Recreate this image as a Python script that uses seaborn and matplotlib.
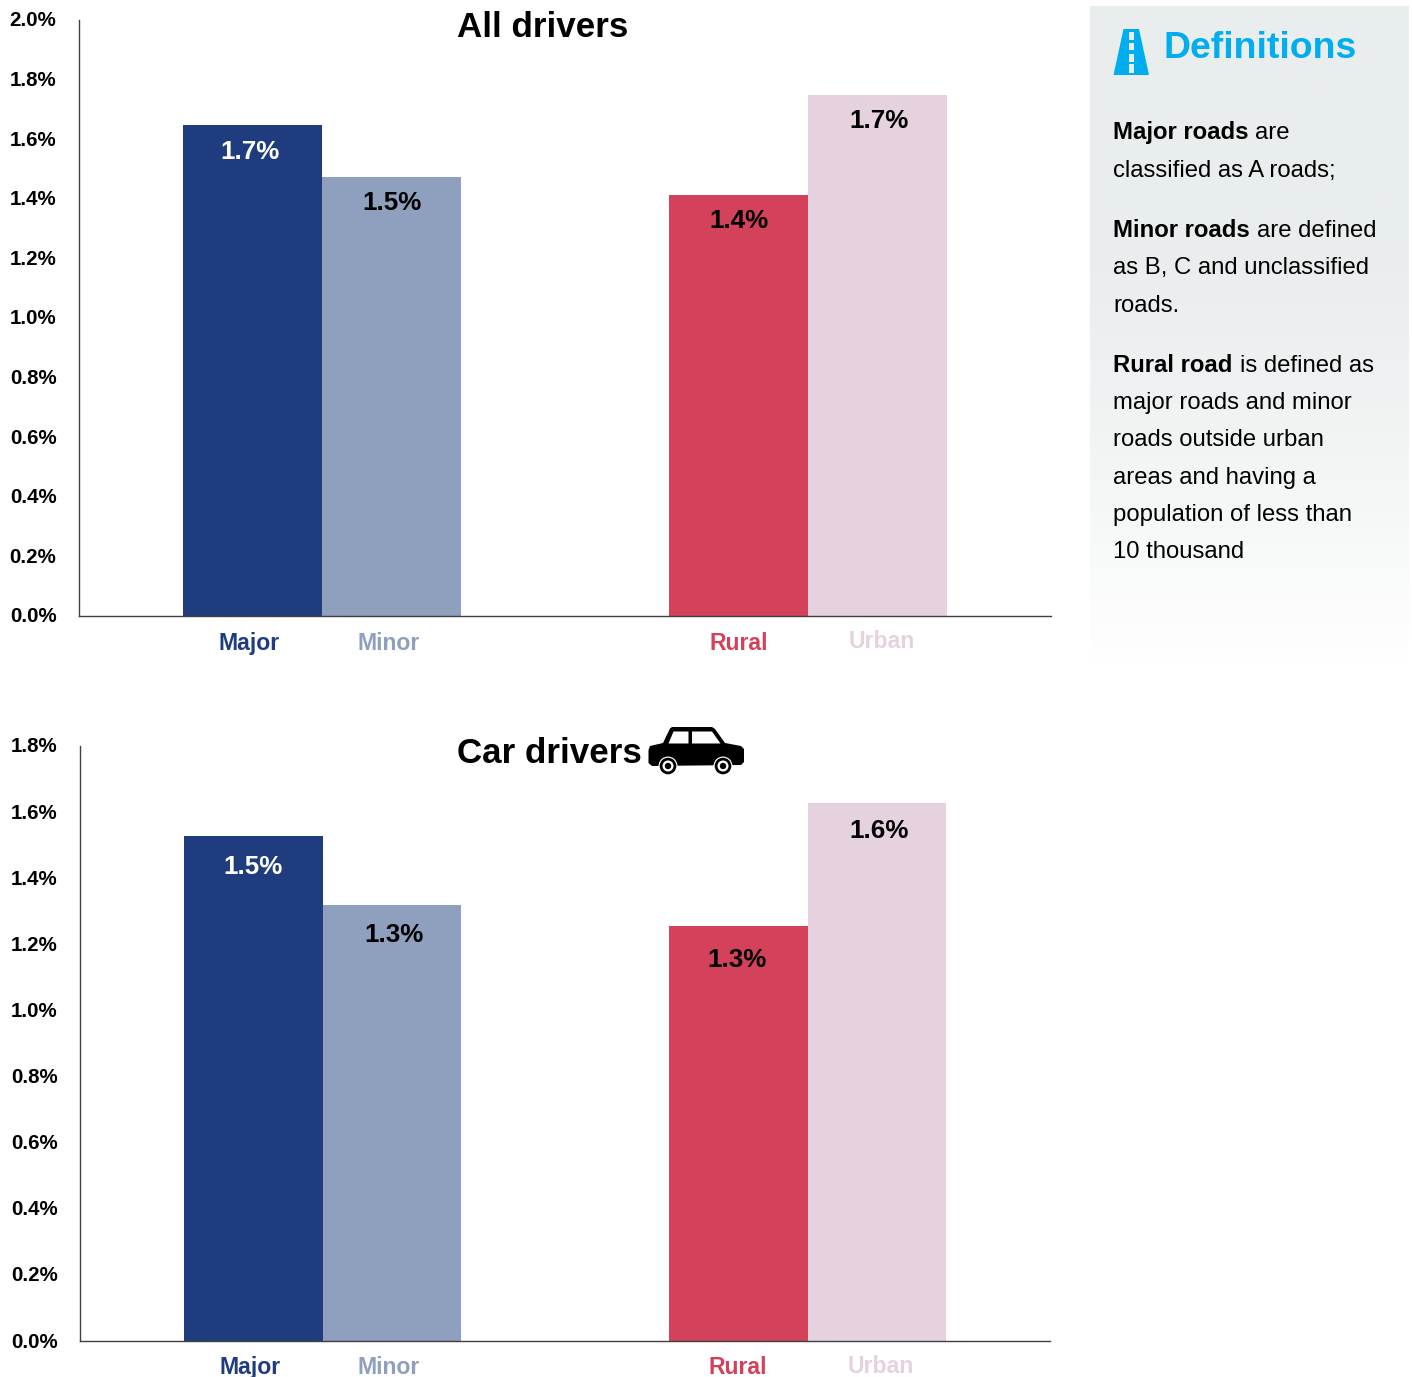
import numpy as np
import pandas as pd
import matplotlib
matplotlib.use("Agg")
import matplotlib.pyplot as plt
from matplotlib.patches import Polygon, Circle, Rectangle
from matplotlib.transforms import Affine2D
import seaborn as sns

# ---- data ----
categories = ["Major", "Minor", "Rural", "Urban"]
groups = ["Road type", "Road type", "Area type", "Area type"]
slots = ["first", "second", "first", "second"]
all_drivers = [1.648, 1.473, 1.413, 1.748]
car_drivers = [1.528, 1.319, 1.255, 1.627]
all_labels = ["1.7%", "1.5%", "1.4%", "1.7%"]
car_labels = ["1.5%", "1.3%", "1.3%", "1.6%"]
all_ticks = [0.0, 0.2, 0.4, 0.6, 0.8, 1.0, 1.2, 1.4, 1.6, 1.8, 2.0]
car_ticks = [0.0, 0.2, 0.4, 0.6, 0.8, 1.0, 1.2, 1.4, 1.6, 1.8]

# ---- styles ----
colors = ["#1f3c7e", "#8f9fbe", "#d3415b", "#e6d1de"]
label_colors = ["white", "black", "black", "black"]
W, H = 1412, 1377
PT = 72 / 100  # px -> pt at dpi 100

sns.set_style("white")
plt.rcParams["font.family"] = ["Liberation Sans", "DejaVu Sans"]
fig = plt.figure(figsize=(W / 100, H / 100), dpi=100)
fig.patch.set_facecolor("white")


def px(ax_box):
    l, t, r, b = ax_box
    return [l / W, 1 - b / H, (r - l) / W, (b - t) / H]


def panel(box, values, labels, ticks, label_off, tick_off):
    ax = fig.add_axes(px(box))
    df = pd.DataFrame({"group": groups, "slot": slots, "value": values})
    sns.barplot(data=df, x="group", y="value", hue="slot", order=["Road type", "Area type"],
                hue_order=["first", "second"], width=0.573, gap=0, saturation=1,
                legend=False, ax=ax, palette=["#000000", "#000000"], linewidth=0)
    bars = [ax.containers[0][0], ax.containers[1][0], ax.containers[0][1], ax.containers[1][1]]
    for bar, c in zip(bars, colors):
        bar.set_facecolor(c)
    centers = [b.get_x() + b.get_width() / 2 for b in bars]
    ax.set_xlim(-0.5, 1.5)
    ax.set_ylim(ticks[0], ticks[-1])
    ax.set_yticks(ticks, [f"{t:.1f}%" for t in ticks])
    ax.set_xticks(centers, categories)
    ax.set_xlabel("")
    ax.set_ylabel("")
    ax.tick_params(axis="y", length=0, pad=22.5 * PT, labelsize=20.5 * PT)
    ax.tick_params(axis="x", length=0, pad=12 * PT, labelsize=23 * PT)
    for lab in ax.get_yticklabels():
        lab.set_fontweight("bold")
        lab.set_color("black")
        lab.set_transform(lab.get_transform() + Affine2D().translate(0, 1))
    for lab, c, (dx, dy) in zip(ax.get_xticklabels(), colors, tick_off):
        lab.set_fontweight("bold")
        lab.set_color(c)
        lab.set_transform(lab.get_transform() + Affine2D().translate(dx, -dy))
    sns.despine(ax=ax)
    for s in ("left", "bottom"):
        ax.spines[s].set_color("#404040")
        ax.spines[s].set_linewidth(1.0)
    for bar, txt, col, (dx, dy) in zip(bars, labels, label_colors, label_off):
        ax.annotate(txt, (bar.get_x() + bar.get_width() / 2, bar.get_height()),
                    xytext=(dx * PT, -dy * PT), textcoords="offset points",
                    ha="center", va="center", color=col, fontweight="bold",
                    fontsize=26 * PT)
    return ax


panel((79, 20, 1051, 616), all_drivers, all_labels, all_ticks,
      [(-2, 27), (0, 26), (1, 26), (1, 26)],
      [(-3, 4), (-3, 4), (0, 4), (4, 2)])
panel((80, 746, 1050, 1341), car_drivers, car_labels, car_ticks,
      [(0, 31), (2, 30), (-1, 34), (2, 28)],
      [(-3, 3), (-3, 3), (0, 3), (4, 2)])

# ---- overlay in pixel coordinates: titles, definitions box, icons ----
ov = fig.add_axes([0, 0, 1, 1], zorder=5)
ov.set_xlim(0, W)
ov.set_ylim(H, 0)
ov.axis("off")
ov.patch.set_alpha(0)

ov.text(542.5, 27.5, "All drivers", ha="center", va="center", fontsize=35 * PT, fontweight="bold", color="black")
ov.text(549, 753.5, "Car drivers", ha="center", va="center", fontsize=35 * PT, fontweight="bold", color="black")

# definitions panel with soft vertical gradient
fade = np.clip((np.linspace(0, 1, 256) - 0.35) / 0.65, 0, 1) ** 1.2
base = np.array([0xE9, 0xED, 0xED]) / 255
img = np.zeros((256, 1, 3))
for i in range(3):
    img[:, 0, i] = base[i] + (1 - base[i]) * fade
ov.imshow(img, extent=(1090, 1409, 665, 6), aspect="auto", zorder=0, interpolation="bilinear")
ov.set_xlim(0, W)
ov.set_ylim(H, 0)

# road icon
BLUE = "#00aeef"
ov.add_patch(Polygon([(1113.5, 75), (1149, 75), (1139, 29), (1123.5, 29)], closed=True, fc=BLUE, ec="none", zorder=2))
for y0, y1 in [(32, 40), (43, 50), (54, 61.5), (64, 73)]:
    ov.add_patch(Rectangle((1129, y0), 4.5, y1 - y0, fc="#e9eded", ec="none", zorder=3))
ov.text(1164, 57.5, "Definitions", color=BLUE, fontsize=37.4 * PT, fontweight="bold", va="baseline")

# body text, (x, baseline, text, bold)
body = [
    (1113, 139, "Major roads", True), (1255.5, 139, "are", False),
    (1113, 177, "classified as A roads;", False),
    (1113, 237, "Minor roads", True), (1257, 237, "are defined", False),
    (1113, 274, "as B, C and unclassified", False),
    (1113, 312, "roads.", False),
    (1113, 372, "Rural road", True), (1239.5, 372, "is defined as", False),
    (1113, 409, "major roads and minor", False),
    (1113, 446, "roads outside urban", False),
    (1113, 484, "areas and having a", False),
    (1113, 521, "population of less than", False),
    (1113, 558, "10 thousand", False),
]
for x, y, s, b in body:
    ov.text(x, y, s, fontsize=23.85 * PT, fontweight="bold" if b else "normal",
            va="baseline", color="black", zorder=4)

# car icon
car = [(648.5, 750), (650, 746), (663, 743), (670, 728.5), (672, 727), (712, 727), (715, 729),
       (725, 743), (741, 746), (744, 749), (744, 762), (741, 765), (652, 766), (648.5, 763)]
ov.add_patch(Polygon(car, closed=True, fc="black", ec="none", zorder=2))
ov.add_patch(Polygon([(668.5, 743.5), (673.5, 731.5), (688.5, 731.5), (688.5, 743.5)], closed=True, fc="white", ec="none", zorder=3))
ov.add_patch(Polygon([(692, 743.5), (692, 731.5), (712, 731.5), (720.5, 743.5)], closed=True, fc="white", ec="none", zorder=3))
for cx in (668, 723):
    ov.add_patch(Circle((cx, 766), 9.5, fc="white", ec="none", zorder=3))
    ov.add_patch(Circle((cx, 766), 8.3, fc="black", ec="none", zorder=3))
    ov.add_patch(Circle((cx, 766), 5.5, fc="white", ec="none", zorder=3))
    ov.add_patch(Circle((cx, 766), 3.2, fc="black", ec="none", zorder=3))

fig.savefig("out.png", dpi=100)
